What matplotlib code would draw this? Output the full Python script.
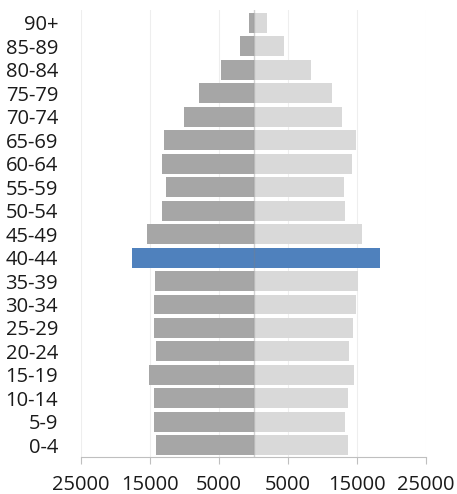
import matplotlib
matplotlib.use("Agg")
import matplotlib.pyplot as plt
import numpy as np

age_groups = ["0-4", "5-9", "10-14", "15-19", "20-24", "25-29", "30-34", "35-39",
              "40-44", "45-49", "50-54", "55-59", "60-64", "65-69", "70-74",
              "75-79", "80-84", "85-89", "90+"]
male = [14190, 14380, 14430, 15110, 14190, 14480, 14480, 14290,
        17680, 15500, 13220, 12740, 13270, 13030, 10030,
        7850, 4700, 1940, 680]
female = [13660, 13320, 13660, 14530, 13900, 14380, 14920, 15160,
          18310, 15790, 13320, 13080, 14290, 14820, 12840,
          11380, 8380, 4360, 1990]
highlight = "40-44"
xticks = [-25000, -15000, -5000, 5000, 15000, 25000]
xticklabels = ["25000", "15000", "5000", "5000", "15000", "25000"]

plt.rcParams['font.family'] = ['Open Sans', 'DejaVu Sans']

fig = plt.figure(figsize=(4.57, 4.94), dpi=100)
ax = fig.add_axes([81/457, 1 - 457/494, (426-81)/457, (457-10)/494])

y = np.arange(len(age_groups))
male_colors = ["#4F81BD" if a == highlight else "#A6A6A6" for a in age_groups]
female_colors = ["#4F81BD" if a == highlight else "#D9D9D9" for a in age_groups]
ax.barh(y, [-m for m in male], height=0.85, color=male_colors, zorder=2)
ax.barh(y, female, height=0.85, color=female_colors, zorder=2)
ax.axvline(0, color="#808080", lw=1, alpha=0.35, zorder=3)

ax.set_xlim(-25000, 25000)
ax.set_ylim(-0.5, len(age_groups) - 0.5 + 0.05)
ax.set_yticks(y)
ax.set_yticklabels(age_groups, fontsize=14.5, color="#1a1a1a")
ax.set_xticks(xticks)
ax.set_xticklabels(xticklabels, fontsize=14.5, color="#1a1a1a")
ax.tick_params(axis="y", length=0, pad=16.5)
ax.tick_params(axis="x", length=5, width=0.8, color="#BFBFBF", pad=8)
ax.xaxis.grid(True, color="#EEEEEE", lw=0.8, zorder=0)
ax.set_axisbelow(True)
for s in ["top", "right", "left"]:
    ax.spines[s].set_visible(False)
ax.spines["bottom"].set_color("#BFBFBF")
ax.spines["bottom"].set_linewidth(0.8)

fig.savefig("out.png", dpi=100)
